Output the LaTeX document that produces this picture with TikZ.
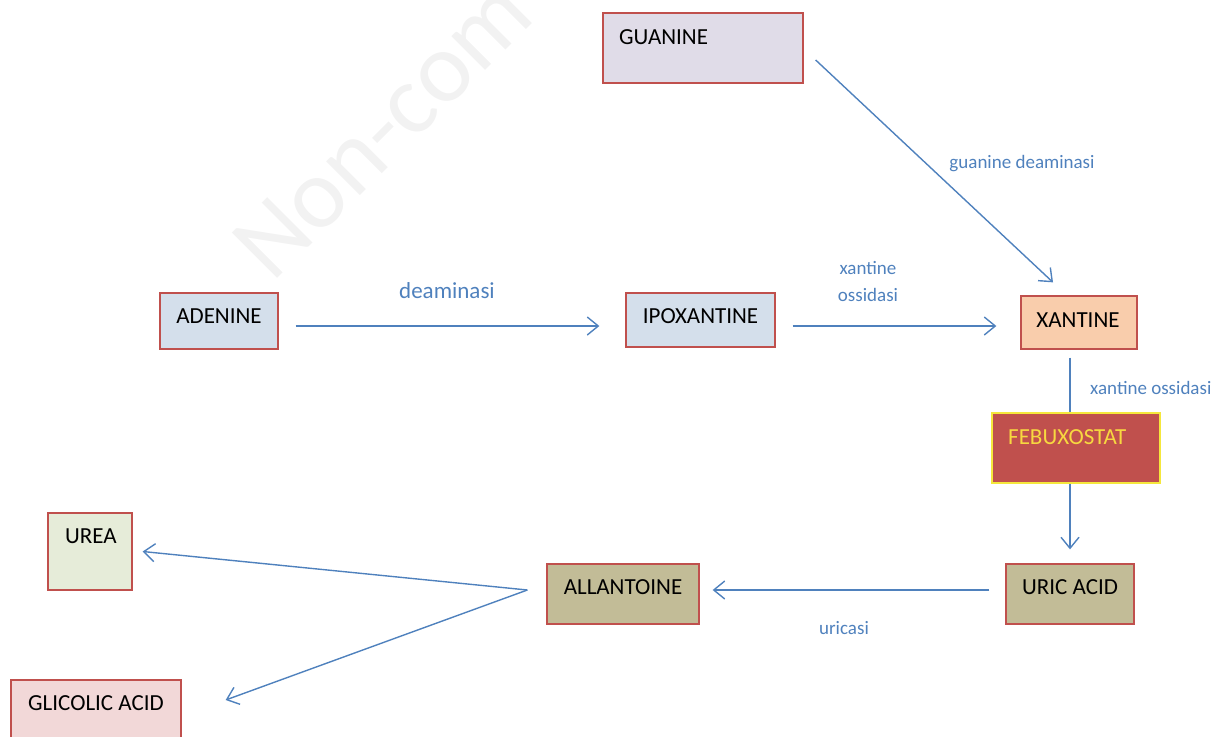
\documentclass[tikz,border=0pt]{standalone}
\usepackage{fontspec}
\setmainfont{Carlito}
\usetikzlibrary{arrows.meta}
\definecolor{arrowblue}{HTML}{4F81BD}
\definecolor{boxred}{HTML}{C0504D}
\definecolor{lav}{HTML}{E0DCE8}
\definecolor{lblue}{HTML}{D4DFEB}
\definecolor{peach}{HTML}{F9CDAC}
\definecolor{tanbox}{HTML}{C2BC97}
\definecolor{lgreen}{HTML}{E6ECD9}
\definecolor{lpink}{HTML}{F2D8D8}
\definecolor{febyellow}{HTML}{F5E73C}
\definecolor{febtext}{HTML}{F7D840}
\definecolor{wmgray}{HTML}{F2F2F2}
\begin{document}
\begin{tikzpicture}[x=1pt,y=-1pt,
  box/.style={draw=boxred, line width=1.3pt, inner sep=0pt, rectangle},
  lbl/.style={text=arrowblue, font=\fontsize{19}{27}\selectfont, inner sep=0pt},
  nametxt/.style={font=\fontsize{23}{27}\selectfont, inner sep=0pt},
  arr/.style={draw=arrowblue, line width=1.4pt, -{Straight Barb[length=11pt,width=18pt,line width=1.4pt]}},
  plain/.style={draw=arrowblue, line width=1.4pt}]
\useasboundingbox (0,0) rectangle (1212,736);
\clip (0,0) rectangle (1212,736);
% watermark
\node[rotate=45, anchor=base west, text=wmgray, font=\fontsize{100}{100}\selectfont, inner sep=0pt] (wm) at (272,284) {Non-com};
% boxes
\node[box, fill=lav, minimum width=200pt, minimum height=70pt] (guanine) at (703,48) {};
\node[box, fill=lblue, minimum width=118pt, minimum height=56pt] (adenine) at (219,321) {};
\node[box, fill=lblue, minimum width=149pt, minimum height=54pt] (ipox) at (700.5,320) {};
\node[box, fill=peach, minimum width=116pt, minimum height=53pt] (xantine) at (1079,322.5) {};
\node[box, draw=febyellow, fill=boxred, minimum width=168pt, minimum height=70pt] (febux) at (1076,448) {};
\node[box, fill=tanbox, minimum width=128pt, minimum height=60pt] (uric) at (1070,594) {};
\node[box, fill=tanbox, minimum width=152pt, minimum height=60pt] (allant) at (623,594) {};
\node[box, fill=lgreen, minimum width=84pt, minimum height=77pt] (urea) at (90,551.5) {};
\node[box, fill=lpink, minimum width=170pt, minimum height=70pt] (glicolic) at (96,715) {};
% box texts
\node[nametxt, anchor=west] (guaninet) at (619,37) {GUANINE};
\node[nametxt] (adeninet) at (219,316) {ADENINE};
\node[nametxt] (ipoxt) at (700.5,316) {IPOXANTINE};
\node[nametxt] (xantinet) at (1078,320) {XANTINE};
\node[nametxt, anchor=west, text=febtext] (febuxt) at (1008,437) {FEBUXOSTAT};
\node[nametxt] (urict) at (1070,587) {URIC ACID};
\node[nametxt] (allantt) at (623,587) {ALLANTOINE};
\node[nametxt] (ureat) at (91,536) {UREA};
\node[nametxt] (glicolict) at (96,703) {GLICOLIC ACID};
% connectors
\draw[arr] ([xshift=12pt,yshift=-12pt]guanine.east) -- ([xshift=-26pt,yshift=13pt]xantine.north);
\draw[arr] ([xshift=17pt,yshift=-5pt]adenine.east) -- ([xshift=-26pt,yshift=-6pt]ipox.west);
\draw[arr] ([xshift=17pt,yshift=-6pt]ipox.east) -- ([xshift=-24pt,yshift=-3.5pt]xantine.west);
\draw[plain] ([xshift=-9pt,yshift=-8pt]xantine.south) -- ([xshift=-6pt]febux.north);
\draw[arr] ([xshift=-6pt]febux.south) -- ([yshift=14pt]uric.north);
\draw[arr] ([xshift=-16pt,yshift=4pt]uric.west) -- ([xshift=13pt,yshift=4pt]allant.east);
\coordinate (split) at ([xshift=-19pt,yshift=4pt]allant.west);
\draw[arr] (split) -- ([xshift=10pt]urea.east);
\draw[arr] (split) -- ([xshift=44pt,yshift=15pt]glicolic.east);
% labels
\node[lbl, font=\fontsize{23}{27}\selectfont] (deam) at (447,291) {deaminasi};
\node[lbl] (gdeam) at (1022,164) {guanine deaminasi};
\node[lbl, align=center] (xoss1) at (868,281) {xantine\\ossidasi};
\node[lbl, anchor=west] (xoss2) at (1090,388) {xantine ossidasi};
\node[lbl] (uricasi) at (844,628) {uricasi};
\end{tikzpicture}
\end{document}
